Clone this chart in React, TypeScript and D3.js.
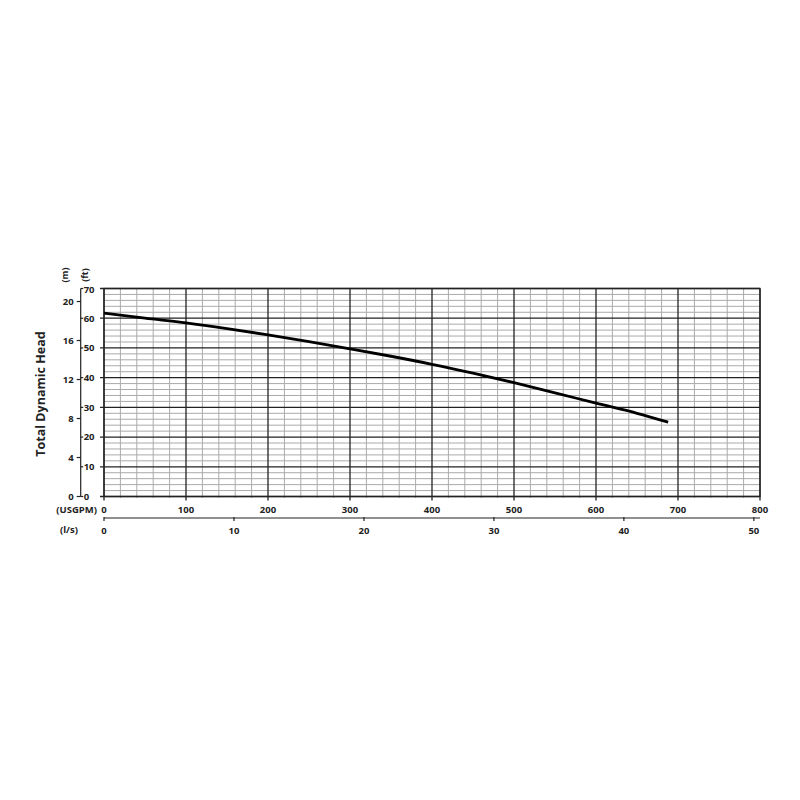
import * as d3 from "d3";

// pump curve (USGPM vs ft)
const flowGpm = [0, 50, 100, 150, 200, 250, 300, 350, 400, 450, 500, 550, 600, 650, 688];
const headFt = [61.7, 60.0, 58.4, 56.5, 54.4, 52.1, 49.7, 47.2, 44.5, 41.5, 38.3, 34.9, 31.4, 28.0, 25.0];

const gpmTicks = [0, 100, 200, 300, 400, 500, 600, 700, 800];
const lpsTicks = [0, 10, 20, 30, 40, 50];
const ftTicks = [0, 10, 20, 30, 40, 50, 60, 70];
const mTicks = [0, 4, 8, 12, 16, 20];

const GPM_PER_LPS = 15.8503;
const FT_PER_M = 3.28084;

export default function App() {
  const width = 800;
  const height = 800;
  const left = 104;
  const right = 760;
  const top = 288.5;
  const bottom = 496.5;
  const font = "'Open Sans', 'Liberation Sans', sans-serif";

  const x = d3.scaleLinear([0, 800], [left, right]);
  const y = d3.scaleLinear([0, 70], [bottom, top]);
  const xl = (v: number) => x(v * GPM_PER_LPS);
  const ym = (v: number) => y(v * FT_PER_M);

  const minorX = d3.range(0, 801, 20).filter((v) => v % 100 !== 0);
  const minorY = d3.range(0, 71, 2).filter((v) => v % 10 !== 0);

  const line = d3
    .line<number>()
    .x((d) => x(d))
    .y((_, i) => y(headFt[i]))
    .curve(d3.curveMonotoneX);

  const axisX = 80.7;
  const lpsY = 518;

  return (
    <svg width={width} height={height} style={{ position: "absolute", left: 0, top: 0, background: "#fff" }}>
      <rect width={width} height={height} fill="#fff" />
      {/* minor grid */}
      <g stroke="#aaa" strokeWidth={1}>
        {minorX.map((v) => (
          <line key={"mx" + v} x1={x(v)} x2={x(v)} y1={top} y2={bottom + 1.5} />
        ))}
        {minorY.map((v) => (
          <line key={"my" + v} x1={left} x2={right} y1={y(v)} y2={y(v)} />
        ))}
      </g>
      {/* major grid */}
      <g stroke="#222" strokeWidth={1.3}>
        {gpmTicks.map((v) => (
          <line key={"Mx" + v} x1={x(v)} x2={x(v)} y1={top} y2={bottom + 4} />
        ))}
        {ftTicks.map((v) => (
          <line key={"My" + v} x1={left - 4} x2={right} y1={y(v)} y2={y(v)} />
        ))}
      </g>
      <rect x={left} y={top} width={right - left} height={bottom - top} fill="none" stroke="#222" strokeWidth={1.3} />

      {/* curve */}
      <path d={line(flowGpm) ?? ""} fill="none" stroke="#000" strokeWidth={2.8} />

      {/* left axes: m (left side) and ft (right side) */}
      <g stroke="#222" strokeWidth={1.2}>
        <line x1={axisX} x2={axisX} y1={top} y2={bottom} />
        {mTicks.map((v) => (
          <line key={"mt" + v} x1={axisX - 4} x2={axisX} y1={ym(v)} y2={ym(v)} />
        ))}
        {ftTicks.map((v) => (
          <line key={"ft" + v} x1={axisX} x2={axisX + 2.5} y1={y(v)} y2={y(v)} />
        ))}
      </g>
      <g fontFamily={font} fontWeight="bold" fontSize={9.5} fill="#222">
        {mTicks.map((v) => (
          <text key={"ml" + v} x={axisX - 7} y={ym(v)} dy="0.35em" textAnchor="end">
            {v}
          </text>
        ))}
        {ftTicks.map((v) => (
          <text key={"fl" + v} x={axisX + 3} y={v === 70 ? y(v) + 1 : y(v)} dy="0.35em" textAnchor="start">
            {v}
          </text>
        ))}
        <text transform={`translate(${65},${275}) rotate(-90)`} textAnchor="middle" dy="0.35em" fontSize={9}>
          (m)
        </text>
        <text transform={`translate(${85},${275}) rotate(-90)`} textAnchor="middle" dy="0.35em" fontSize={9}>
          (ft)
        </text>

        {/* USGPM labels */}
        {gpmTicks.map((v) => (
          <text key={"gl" + v} x={x(v)} y={510} dy="0.35em" textAnchor="middle">
            {v}
          </text>
        ))}
        <text x={97} y={510} dy="0.35em" textAnchor="end">
          (USGPM)
        </text>

        {/* l/s labels */}
        {lpsTicks.map((v) => (
          <text key={"ll" + v} x={xl(v)} y={531} dy="0.35em" textAnchor="middle">
            {v}
          </text>
        ))}
        <text x={69} y={530} dy="0.35em" textAnchor="middle">
          (l/s)
        </text>
      </g>
      <g stroke="#222" strokeWidth={1.2}>
        <line x1={left} x2={right} y1={lpsY} y2={lpsY} />
        {lpsTicks.map((v) => (
          <line key={"lt" + v} x1={xl(v)} x2={xl(v)} y1={lpsY - 1} y2={lpsY + 3} />
        ))}
      </g>

      <text
        transform={`translate(${41},${394}) rotate(-90)`}
        textAnchor="middle"
        dy="0.35em"
        fontFamily={font}
        fontWeight="bold"
        fontSize={12.5}
        fill="#222"
      >
        Total Dynamic Head
      </text>
    </svg>
  );
}
